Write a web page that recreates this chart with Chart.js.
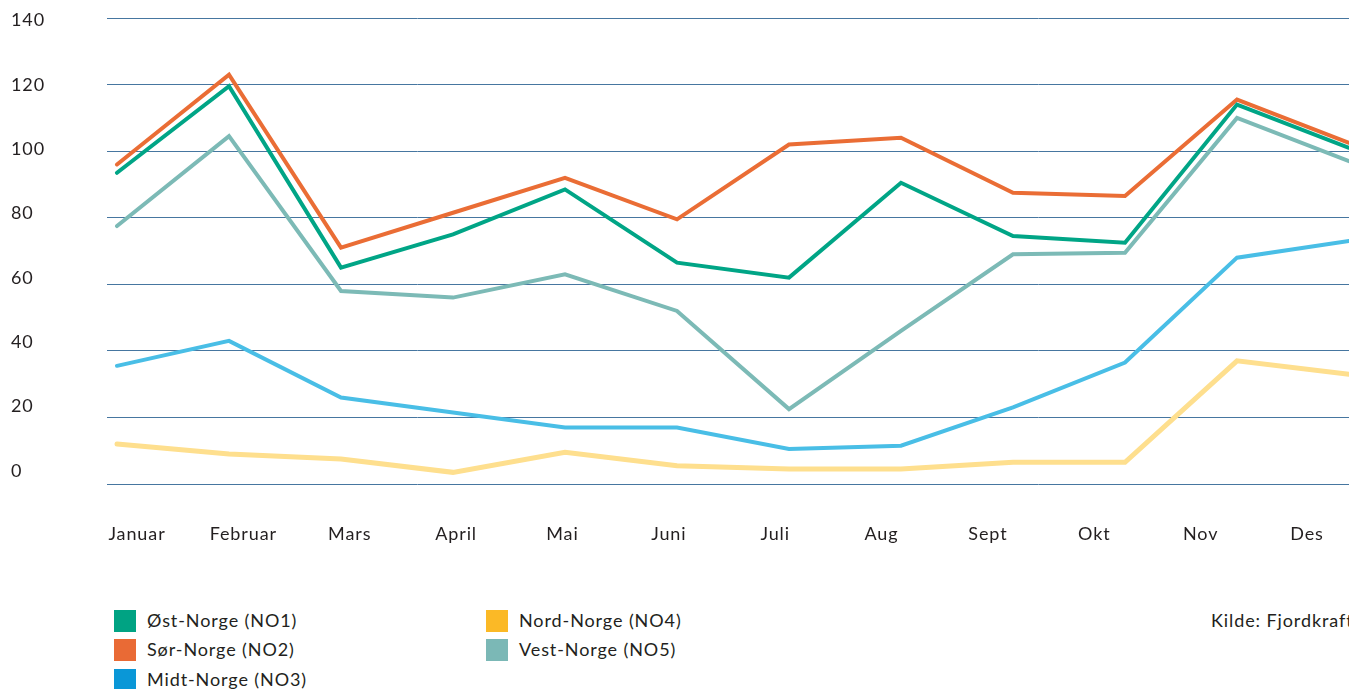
<!DOCTYPE html>
<html lang="no">
<head>
<meta charset="utf-8">
<title>Strømpris per prisområde</title>
<script src="https://cdn.jsdelivr.net/npm/chart.js@4.4.1/dist/chart.umd.min.js"></script>
<style>
	html, body { margin: 0; padding: 0; background: #fff; overflow: hidden; }
	body { width: 1349px; height: 689px; position: relative; font-family: Lato, "Open Sans", sans-serif; color: #231f20; }
	#chart { position: absolute; left: 0; top: 0; }
	.legend-item { position: absolute; height: 22px; line-height: 22px; font-size: 18px; letter-spacing: 0.9px; white-space: nowrap; }
	.legend-item .box { position: absolute; left: 0; top: 0; width: 22px; height: 22px; }
	.legend-item .label { position: absolute; left: 33px; top: -1px; }
	#source { position: absolute; left: 1211px; top: 609px; height: 22px; line-height: 22px; font-size: 18px; letter-spacing: 0.9px; white-space: nowrap; }
</style>
</head>
<body>
<canvas id="chart" width="1349" height="560"></canvas>
<div id="legend"></div>
<div id="source">Kilde: Fjordkraft</div>
<script>
const months = ["Januar", "Februar", "Mars", "April", "Mai", "Juni", "Juli", "Aug", "Sept", "Okt", "Nov", "Des"];
const yTickLabels = [0, 20, 40, 60, 80, 100, 120, 140];

const seriesNames = ["Øst-Norge (NO1)", "Sør-Norge (NO2)", "Midt-Norge (NO3)", "Nord-Norge (NO4)", "Vest-Norge (NO5)"];
const lineColors = ["#00a586", "#ea6d35", "#49bee6", "#fedf8e", "#7cbab6"];
const legendColors = ["#00a383", "#e96a35", "#0a97d7", "#fbb926", "#7bb8b6"];
const lineWidths = [4, 4, 4, 5, 4];

const no1 = [93.5, 119.5, 65, 75, 88.5, 66.5, 62, 90.5, 74.5, 72.5, 114, 101];
const no2 = [96, 123, 71, 81.5, 92, 79.5, 102, 104, 87.5, 86.5, 115.5, 102.5];
const no3 = [35.5, 43, 26, 21.5, 17, 17, 10.5, 11.5, 23, 36.5, 68, 73];
const no4 = [12, 9, 7.5, 3.5, 9.5, 5.5, 4.5, 4.5, 6.5, 6.5, 37, 33];
const no5 = [77.5, 104.5, 58, 56, 63, 52, 22.5, 46, 69, 69.5, 110, 97];
const seriesValues = [no1, no2, no3, no4, no5];

const textColor = "#231f20";
const labelFont = { family: "Lato", size: 18 };

// Månedene som x-verdier (0..11)
function toPoints(values) {
	return values.map((v, i) => ({ x: i, y: v }));
}

// canvas-tekst har litt sperring som i originalen
const letterSpacingPlugin = {
	id: "letterSpacing",
	beforeDraw(chart) {
		chart.ctx.letterSpacing = "0.9px";
	},
};

const ctx = document.getElementById("chart").getContext("2d");
new Chart(ctx, {
	type: "line",
	data: {
		datasets: seriesNames.map((name, i) => ({
			label: name,
			data: toPoints(seriesValues[i]),
			xAxisID: "x",
			yAxisID: "y",
			borderColor: lineColors[i],
			backgroundColor: lineColors[i],
			borderWidth: lineWidths[i],
			borderCapStyle: "round",
			borderJoinStyle: "miter",
			pointRadius: 0,
			tension: 0,
			fill: false,
		})),
	},
	options: {
		responsive: false,
		animation: false,
		layout: { padding: { top: 18, left: 11, right: 0, bottom: 6 } },
		plugins: {
			legend: { display: false },
			tooltip: { enabled: false },
		},
		scales: {
			x: { type: "linear", display: false, min: -0.0893, max: 11 },
			y: {
				type: "linear",
				position: "left",
				min: 0,
				max: 140,
				ticks: { display: false, stepSize: 20 },
				grid: { color: "#4676a0", lineWidth: 1, drawTicks: false },
				border: { display: false },
			},
			// egne akser for tekstene, de står ikke helt på rutenettet
			yl: {
				type: "linear",
				position: "left",
				min: -4.14,
				max: 140.83,
				grid: { display: false, drawTicks: false },
				border: { display: false },
				afterBuildTicks: (s) => {
					s.ticks = yTickLabels.map((v) => ({ value: v }));
				},
				afterFit: (s) => {
					s.width = 96;
					s.paddingTop = 0;
					s.paddingBottom = 0;
				},
				ticks: { crossAlign: "far", padding: 0, color: textColor, font: labelFont },
			},
			xl: {
				type: "linear",
				position: "bottom",
				min: -0.282,
				max: 11.395,
				grid: { display: false, drawTicks: false },
				border: { display: false },
				afterBuildTicks: (s) => {
					s.ticks = months.map((m, i) => ({ value: i }));
				},
				afterFit: (s) => {
					s.height = 70;
					s.paddingLeft = 0;
					s.paddingRight = 0;
				},
				ticks: {
					callback: (value, index) => months[index],
					padding: 39,
					maxRotation: 0,
					autoSkip: false,
					color: textColor,
					font: labelFont,
				},
			},
		},
	},
	plugins: [letterSpacingPlugin],
});

// Forklaring: tre i første kolonne, to i andre
const legendEl = document.getElementById("legend");
seriesNames.forEach((name, i) => {
	const col = i < 3 ? 0 : 1;
	const row = i < 3 ? i : i - 3;
	const item = document.createElement("div");
	item.className = "legend-item";
	item.style.left = (col === 0 ? 114 : 486) + "px";
	item.style.top = (610 + row * 29.3) + "px";
	item.innerHTML = `<span class="box" style="background:${legendColors[i]}"></span><span class="label">${name}</span>`;
	legendEl.appendChild(item);
});
</script>
</body>
</html>
